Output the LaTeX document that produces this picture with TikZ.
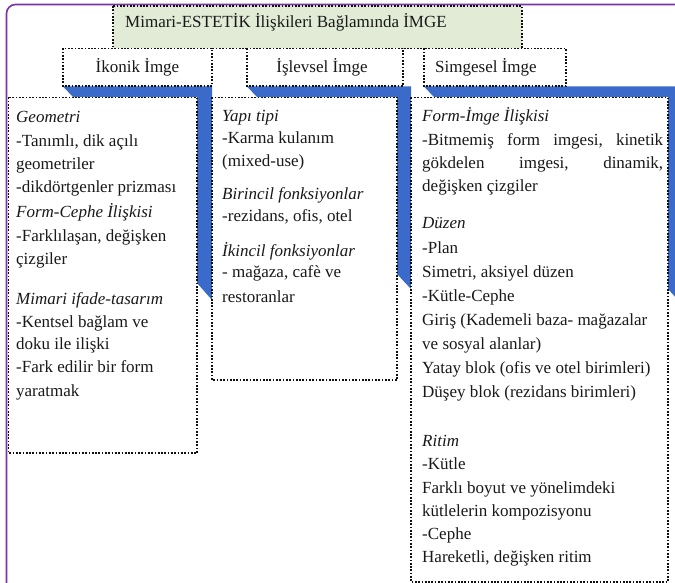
\documentclass[tikz,border=0pt]{standalone}
\usepackage{fontspec}
\setmainfont{Liberation Serif}
\definecolor{bandblue}{RGB}{58,106,202}
\definecolor{titlefill}{RGB}{226,235,213}
\definecolor{framecol}{RGB}{122,52,165}
\definecolor{ink}{RGB}{25,25,25}
\definecolor{dotcol}{RGB}{15,15,15}
\begin{document}
\begin{tikzpicture}[x=1pt,y=-1pt,
  dotbox/.style={draw=dotcol, line width=1.8pt, dash pattern=on 1.7pt off 1.6pt},
  band/.style={fill=bandblue, draw=none},
  txt/.style={inner sep=0pt, anchor=base west, text=ink, font=\fontsize{17}{22}\selectfont},
  hdr/.style={inner sep=0pt, anchor=base, text=ink, font=\fontsize{17}{22}\selectfont}]
\useasboundingbox (0,0) rectangle (675,583);
\clip (0,0) rectangle (675,583);
\fill[white] (0,0) rectangle (675,583);
% outer purple frame (cut by the picture edges)
\draw[framecol, line width=1.6pt, rounded corners=9pt] (700,4.5) -- (6.5,4.5) -- (6.5,600);
% blue shadow bands
\path[band] (63,86.5) -- (212,86.5) -- (212,300) -- (197,283) -- (197,97) -- (73,97) -- cycle;
\path[band] (247,86.5) -- (411,86.5) -- (411,289) -- (397,274) -- (397,97) -- (257,97) -- cycle;
\path[band] (424,86.5) -- (680,86.5) -- (680,302) -- (668,289) -- (668,97) -- (434,97) -- cycle;
% title box
\fill[titlefill] (113,6) rectangle (522,48.5);
\draw[dotbox] (113,6) rectangle (522,48.5);
\node[txt] (title) at (125,28) {Mimari-ESTETİK İlişkileri Bağlamında İMGE};
% header boxes
\filldraw[fill=white, dotbox] (63,48.5) rectangle (212,86);
\filldraw[fill=white, dotbox] (247,48.5) rectangle (403,86);
\filldraw[fill=white, dotbox] (424,48.5) rectangle (566,86);
\node[hdr] (h1) at (137.5,73) {İkonik İmge};
\node[hdr] (h2) at (322,73) {İşlevsel İmge};
\node[hdr] (h3) at (486,73) {Simgesel İmge};
% lower boxes
\filldraw[fill=white, dotbox] (8.5,97.5) rectangle (197,453);
\filldraw[fill=white, dotbox] (212,97.5) rectangle (397,380);
\filldraw[fill=white, dotbox] (411,97.5) rectangle (668,582);
% left column
\foreach \ly/\lt [count=\i] in {
  123/{\textit{Geometri}},
  146.5/{-Tanımlı, dik açılı},
  170/{geometriler},
  193/{-dikdörtgenler prizması},
  218/{\textit{Form-Cephe İlişkisi}},
  241/{-Farklılaşan, değişken},
  264/{çizgiler},
  304/{\textit{Mimari ifade-tasarım}},
  327/{-Kentsel bağlam ve},
  349.5/{doku ile ilişki},
  372/{-Fark edilir bir form},
  396/{yaratmak}}
  \node[txt] (L\i) at (16,\ly) {\lt};
% middle column
\foreach \ly/\lt [count=\i] in {
  122/{\textit{Yapı tipi}},
  144/{-Karma kulanım},
  167/{(mixed-use)},
  200/{\textit{Birincil fonksiyonlar}},
  222/{-rezidans, ofis, otel},
  256/{\textit{İkincil fonksiyonlar}},
  277/{- mağaza, cafè ve},
  302/{restoranlar}}
  \node[txt] (M\i) at (222,\ly) {\lt};
% right column
\foreach \ly/\lt [count=\i] in {
  122/{\textit{Form-İmge İlişkisi}},
  146/{\hbox to 241pt{-Bitmemiş\hfill form\hfill imgesi,\hfill kinetik}},
  169/{\hbox to 241pt{gökdelen\hfill imgesi,\hfill dinamik,}},
  192/{değişken çizgiler},
  229/{\textit{Düzen}},
  253/{-Plan},
  277/{Simetri, aksiyel düzen},
  301/{-Kütle-Cephe},
  325/{Giriş (Kademeli baza- mağazalar},
  349/{ve sosyal alanlar)},
  373/{Yatay blok (ofis ve otel birimleri)},
  397/{Düşey blok (rezidans birimleri)},
  446/{\textit{Ritim}},
  469.5/{-Kütle},
  493/{Farklı boyut ve yönelimdeki},
  516/{kütlelerin kompozisyonu},
  539.5/{-Cephe},
  562/{Hareketli, değişken ritim}}
  \node[txt] (R\i) at (422,\ly) {\lt};
\end{tikzpicture}
\end{document}
